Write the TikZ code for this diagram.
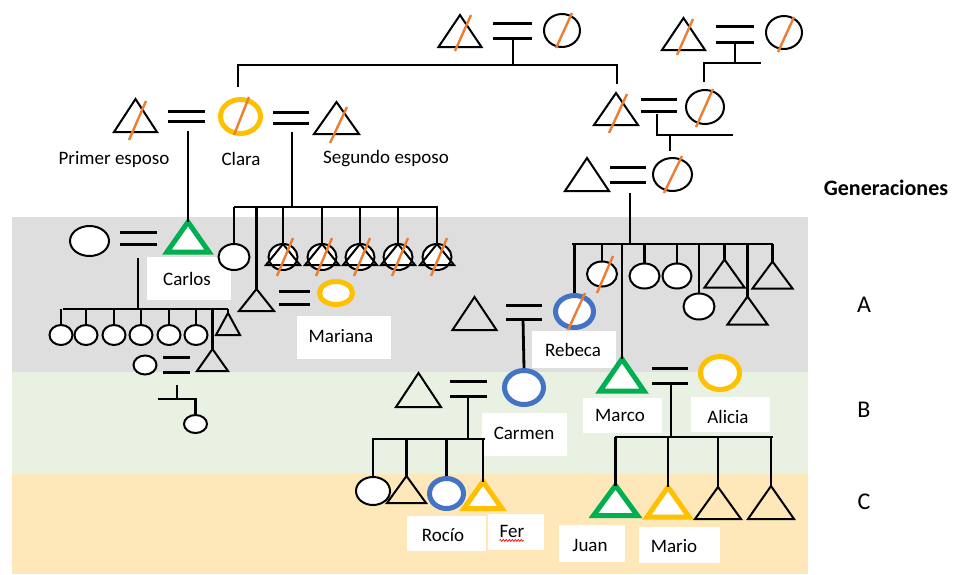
\documentclass[tikz,border=0pt]{standalone}
\usepackage{fontspec}
\setmainfont{Carlito}
\usetikzlibrary{shapes.geometric,decorations.pathmorphing}
\definecolor{bandA}{RGB}{222,222,222}
\definecolor{bandB}{RGB}{233,241,227}
\definecolor{bandC}{RGB}{254,231,184}
\definecolor{kgreen}{RGB}{0,176,80}
\definecolor{kgold}{RGB}{255,192,0}
\definecolor{kblue}{RGB}{68,114,196}
\definecolor{korange}{RGB}{237,125,49}

\tikzset{
  link/.style={line width=2.8pt},
  wed/.style={line width=3pt},
  fem/.style={ellipse, draw, fill=white, inner sep=0pt, line width=2pt},
  ring/.style={ellipse, draw=#1, fill=white, inner sep=0pt, line width=5pt},
  outl/.style={draw, line width=2pt},
  boldtri/.style={draw=#1, fill=white, line width=5pt},
  slash/.style={korange, line width=2.4pt},
  box/.style={fill=white, inner sep=0pt},
  txt/.style={font=\fontsize{19}{22}\selectfont, inner sep=0pt},
  gen/.style={font=\fontsize{24}{28}\selectfont, inner sep=0pt},
  pics/tri/.style 2 args={code={
    \draw[pic actions] (-#1/2,#2/2) -- (0,-#2/2) -- (#1/2,#2/2) -- cycle;
    \coordinate (-top) at (0,-#2/2);
  }},
}

\begin{document}
\begin{tikzpicture}[x=1pt,y=-1pt]
\useasboundingbox (0,0) rectangle (954,574);

% generation bands
\fill[bandA] (12,217) rectangle (808,372);
\fill[bandB] (12,372) rectangle (808,474);
\fill[bandC] (12,474) rectangle (808,574);

% ---------- great-grandparents, first couple
\draw[wed] (493,23) -- (532,23);
\draw[wed] (493,38) -- (532,38);
\coordinate (mA) at (513,38);
\coordinate (busA) at (513,65);
\draw[link] (mA) -- (busA);
\coordinate (toClara) at (238,87);
\coordinate (toGf) at (617,84);
\draw[link] (toClara) |- (toGf |- busA) -- (toGf);
\pic[outl] (ggfA) at (460,31) {tri={43}{32}};
\node[fem, minimum width=36pt, minimum height=33pt] (ggmA) at (562,30.5) {};
\draw[slash] (455,51) -- (471,15);
\draw[slash] (556,48) -- (572,13);

% ---------- great-grandparents, second couple
\draw[wed] (716,26) -- (754,26);
\draw[wed] (716,42) -- (754,42);
\coordinate (mB) at (735,42);
\coordinate (busB) at (735,63);
\coordinate (toGm) at (704,82);
\draw[link] (mB) -- (busB);
\draw[link] (761,63) -| (toGm);
\pic[outl] (ggfB) at (683.5,34) {tri={43}{32}};
\node[fem, minimum width=36pt, minimum height=33pt] (ggmB) at (784,32.5) {};
\draw[slash] (677,55) -- (693,19);
\draw[slash] (778,52) -- (794,17);

% ---------- grandparents
\draw[wed] (641,99) -- (677,99);
\draw[wed] (641,111) -- (677,111);
\coordinate (mG) at (657,114);
\coordinate (busG) at (670,135);
\draw[link] (mG) |- (733,135);
\draw[link] (busG) -- (670,151);
\pic[outl] (gf) at (616,109) {tri={44}{32}};
\node[fem, minimum width=38pt, minimum height=34pt] (gm) at (705,107) {};
\draw[slash] (609,133) -- (627,94);
\draw[slash] (696,127) -- (713,89);

% ---------- parents of Rebeca and Marco
\draw[wed] (610,167) -- (646,167);
\draw[wed] (610,182) -- (646,182);
\coordinate (mP) at (630,193);
\coordinate (sibbar) at (630,244);
\draw[link] (mP) -- (sibbar);
\draw[link] (572,244) -- (773,244);
\pic[outl] (pf) at (587,174.5) {tri={44}{33}};
\node[fem, minimum width=39pt, minimum height=33pt] (pm) at (672.5,174.5) {};
\draw[slash] (664,193) -- (682,156);

% siblings (generation A, right)
\node[ring=kblue, minimum width=38pt, minimum height=32pt] (rebeca) at (574.5,311.5) {};
\node[fem, minimum width=30pt, minimum height=25pt] (s2) at (602,274) {};
\node[fem, minimum width=30pt, minimum height=25pt] (s4) at (644.5,276) {};
\node[fem, minimum width=29pt, minimum height=25pt] (s5) at (677,276) {};
\node[fem, minimum width=31pt, minimum height=26pt] (s6) at (699,306.5) {};
\pic[outl] (s7) at (724.5,273.5) {tri={40}{28}};
\pic[outl] (s8) at (747.5,310.5) {tri={40}{28}};
\pic[outl] (s9) at (772.5,275) {tri={40}{27}};
\foreach \n in {rebeca,s2,s4,s5,s6}
  \draw[link] (\n.north) -- (\n.north |- sibbar);
\foreach \n in {s7,s8,s9}
  \draw[link] (\n-top) -- (\n-top |- sibbar);
\draw[slash] (597,293) -- (613,256);
\draw[slash] (568,330) -- (585,293);

% Rebeca's husband and Carmen
\draw[wed] (506,305) -- (542,305);
\draw[wed] (506,319) -- (542,319);
\coordinate (mR) at (523,319);
\pic[outl] (rebh) at (474.5,313.5) {tri={44}{33}};
\node[box, minimum width=84pt, minimum height=37pt] (bRebeca) at (574,349.5) {};
\node[txt] (tRebeca) at (573,350) {Rebeca};
\node[ring=kblue, minimum width=39pt, minimum height=34pt] (carmen) at (524,387.5) {};
\draw[link] (mR) -- (carmen.north);
\node[box, minimum width=85pt, minimum height=43pt] (bCarmen) at (524.5,434.5) {};
\node[txt] (tCarmen) at (524,433) {Carmen};

% Carmen's husband and children
\pic[outl] (carh) at (418.5,390) {tri={45}{34}};
\draw[wed] (450,381) -- (487,381);
\draw[wed] (450,396) -- (487,396);
\coordinate (mC) at (468,396);
\coordinate (cbar) at (468,439);
\draw[link] (mC) -- (cbar);
\draw[link] (372,439) -- (485,439);
\node[fem, minimum width=34pt, minimum height=28pt] (cc1) at (373,491) {};
\pic[outl] (cc2) at (406.5,489.5) {tri={39}{27}};
\node[ring=kblue, minimum width=34pt, minimum height=30pt] (rocio) at (446.5,493.5) {};
\pic[boldtri=kgold] (fer) at (483,495) {tri={38}{27}};
\draw[link] (cc1.north) -- (cc1.north |- cbar);
\draw[link] (cc2-top) -- (cc2-top |- cbar);
\draw[link] (rocio.north) -- (rocio.north |- cbar);
\draw[link] (fer-top) -- (fer-top |- cbar);
\node[box, minimum width=79pt, minimum height=35pt] (bRocio) at (446.5,533.5) {};
\node[txt] (tRocio) at (443,535) {Rocío};
\node[box, minimum width=56pt, minimum height=36pt] (bFer) at (516,532) {};
\node[txt] (tFer) at (512,531) {Fer};
\draw[red, line width=0.7pt, decorate, decoration={zigzag, segment length=3pt, amplitude=1pt}]
  (tFer.south west) ++(0,3) -- ++(24,0);

% Marco, Alicia and their children
\pic[boldtri=kgreen] (marco) at (622,375) {tri={44}{32}};
\draw[link] (marco-top) -- (marco-top |- sibbar);
\draw[wed] (652,368) -- (688,368);
\draw[wed] (652,383) -- (688,383);
\coordinate (mM) at (671,383);
\coordinate (mbar) at (671,437);
\draw[link] (mM) -- (mbar);
\draw[link] (615,437) -- (773,437);
\node[ring=kgold, minimum width=39pt, minimum height=33pt] (alicia) at (720,373) {};
\node[box, minimum width=79pt, minimum height=35pt] (bMarco) at (622.5,415.5) {};
\node[txt] (tMarco) at (620,415) {Marco};
\node[box, minimum width=79pt, minimum height=35pt] (bAlicia) at (730.5,414.5) {};
\node[txt] (tAlicia) at (728,417) {Alicia};
\pic[boldtri=kgreen] (juan) at (615.5,500.5) {tri={44}{30}};
\pic[boldtri=kgold] (mario) at (668,502) {tri={42}{30}};
\pic[outl] (m3) at (718,503) {tri={46}{32}};
\pic[outl] (m4) at (771,502.5) {tri={46}{33}};
\foreach \n in {juan,mario,m3,m4}
  \draw[link] (\n-top) -- (\n-top |- mbar);
\node[box, minimum width=66pt, minimum height=37pt] (bJuan) at (592,543.5) {};
\node[txt] (tJuan) at (590,545) {Juan};
\node[box, minimum width=81pt, minimum height=36pt] (bMario) at (679.5,545) {};
\node[txt] (tMario) at (674,546) {Mario};

% ---------- Clara and her two husbands
\draw[wed] (168,111) -- (205,111);
\draw[wed] (168,121) -- (205,121);
\draw[wed] (273,112) -- (309,112);
\draw[wed] (273,123) -- (309,123);
\pic[outl] (esp1) at (135.5,115.5) {tri={43}{33}};
\node[ring=kgold, minimum width=40pt, minimum height=34pt] (clara) at (240.5,116.5) {};
\pic[outl] (esp2) at (336.5,118) {tri={45}{32}};
\draw[slash] (129,140) -- (146,101);
\draw[slash] (234,135) -- (249,97);
\draw[slash] (330,143) -- (347,107);
\node[txt] (tEsp1) at (114,159) {Primer esposo};
\node[txt] (tClara) at (241,159) {Clara};
\node[txt] (tEsp2) at (386,159) {Segundo esposo};

% first marriage: Carlos
\coordinate (m1) at (188,131);
\pic[boldtri=kgreen] (carlos) at (188,237) {tri={42}{30}};
\draw[link] (m1) -- (carlos-top);
\node[fem, minimum width=39pt, minimum height=30pt] (carw) at (89.5,241) {};
\draw[wed] (120,232) -- (157,232);
\draw[wed] (120,244) -- (157,244);
\node[box, minimum width=84pt, minimum height=43pt] (bCarlos) at (189,278.5) {};
\node[txt] (tCarlos) at (187,279) {Carlos};

% Carlos' children
\coordinate (mK) at (138,258);
\coordinate (kbar) at (138,309);
\draw[link] (mK) -- (kbar);
\draw[link] (63,309) -- (228,309);
\foreach \i/\x in {1/61,2/86,3/114,4/141,5/169,6/196}{
  \node[fem, minimum width=23pt, minimum height=20pt] (kc\i) at (\x,335) {};
  \draw[link] (kc\i.north) -- (kc\i.north |- kbar);
}
\pic[outl] (kt) at (228,324) {tri={24}{22}};
\draw[link] (kt-top) -- (kt-top |- kbar);
\pic[outl] (kson) at (212.5,360) {tri={31}{22}};
\draw[link] (kson-top) -- (kson-top |- kbar);
\draw[wed] (163,357) -- (190,357);
\draw[wed] (163,372) -- (190,372);
\node[fem, minimum width=23pt, minimum height=19pt] (ksonw) at (145,365) {};
\node[fem, minimum width=23pt, minimum height=18pt] (kgc) at (195.5,424) {};
\coordinate (mKs) at (177,385);
\draw[link] (mKs) -- (177,399);
\draw[link] (158,399) -| (kgc.north);

% second marriage: children of Clara and her second husband
\coordinate (m2) at (292,132);
\coordinate (dbar) at (292,207);
\draw[link] (m2) -- (dbar);
\draw[link] (234,207) -- (438,207);
\node[fem, minimum width=31pt, minimum height=26pt] (dc) at (234,257) {};
\draw[link] (dc.north) -- (dc.north |- dbar);
\pic[outl] (mh) at (256.5,300) {tri={35}{22}};
\draw[link] (mh-top) -- (mh-top |- dbar);
\foreach \i/\x in {1/283,2/322,3/360,4/398,5/437}{
  \node[fem, minimum width=29pt, minimum height=26pt] (d\i) at (\x,257) {};
  \pic[outl] (dt\i) at (\x,254.5) {tri={34}{21}};
  \draw[link] (dt\i-top) -- (dt\i-top |- dbar);
  \draw[slash] (\x-6,276) -- (\x+10,238);
}
\draw[wed] (279,291) -- (310,291);
\draw[wed] (279,304) -- (310,304);
\node[ring=kgold, minimum width=33pt, minimum height=23pt] (mariana) at (336,293) {};
\node[box, minimum width=94pt, minimum height=43pt] (bMariana) at (344,337.5) {};
\node[txt] (tMariana) at (341,336) {Mariana};

% generation labels
\node[font=\bfseries\fontsize{22}{26}\selectfont, inner sep=0pt] (tGen) at (886,188) {Generaciones};
\node[gen] (gA) at (864,305) {A};
\node[gen] (gB) at (864,410) {B};
\node[gen] (gC) at (864,502) {C};
\end{tikzpicture}
\end{document}
